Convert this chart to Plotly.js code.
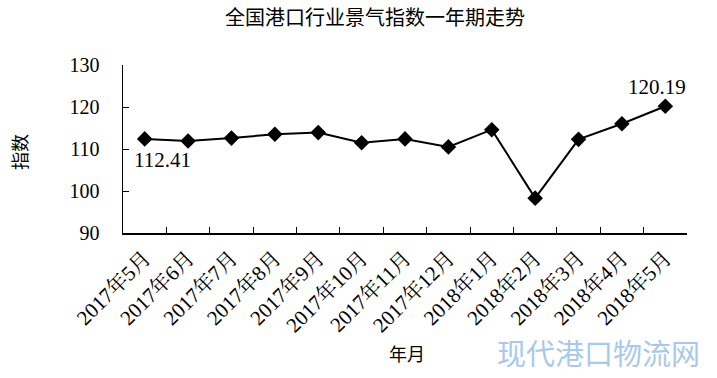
<!DOCTYPE html>
<html><head><meta charset="utf-8">
<script src="https://cdn.plot.ly/plotly-3.0.1.min.js"></script>
<style>body{margin:0;background:#fff}#c{width:717px;height:378px}</style>
</head><body><div id="c"></div>
<script>
const months = ["2017年5月","2017年6月","2017年7月","2017年8月","2017年9月","2017年10月","2017年11月","2017年12月","2018年1月","2018年2月","2018年3月","2018年4月","2018年5月"];
const index = [112.41, 111.9, 112.6, 113.5, 113.9, 111.5, 112.4, 110.5, 114.6, 98.3, 112.3, 116.0, 120.19];
const yTicks = [90, 100, 110, 120, 130];

const serif = "'Liberation Serif', 'Noto Serif CJK SC', 'Noto Sans CJK SC', serif";
const cjk = "'Noto Sans CJK SC', sans-serif";

const trace = {
  x: months, y: index, type: 'scatter', mode: 'lines+markers',
  line: {color: '#000', width: 2},
  marker: {symbol: 'diamond', size: 12, color: '#000'},
  hoverinfo: 'none'
};

const pw = 717 - 123 - 30, ph = 378 - 65 - 145;
const px = v => (v - 123) / pw, py = v => (233 - v) / ph;

const layout = {
  width: 717, height: 378,
  margin: {l: 123, r: 30, t: 65, b: 145},
  paper_bgcolor: '#fff', plot_bgcolor: '#fff',
  showlegend: false,
  title: {text: '全国港口行业景气指数一年期走势', font: {family: cjk, size: 20, color: '#000'}, x: 375 / 717, xanchor: 'center', y: 1 - 18 / 378, yanchor: 'middle'},
  xaxis: {
    type: 'category', range: [-0.5, 12.5], tickson: 'boundaries',
    ticks: 'inside', ticklen: 6, tickcolor: '#000',
    showline: true, linecolor: '#000', linewidth: 1.5,
    showgrid: false, zeroline: false, ticklabelstandoff: 3,
    tickangle: -45, tickfont: {family: serif, size: 21, color: '#000'},
    title: {text: ''}
  },
  yaxis: {
    range: [90, 130], tickvals: yTicks, ticktext: yTicks.map(String),
    ticks: 'inside', ticklen: 6, tickcolor: '#000',
    showline: true, linecolor: '#000', linewidth: 1.5,
    showgrid: false, zeroline: false, ticklabelstandoff: 18,
    tickfont: {family: serif, size: 20, color: '#000'},
    title: {text: ''}
  },
  annotations: [
    {x: months[0], y: index[0], xref: 'x', yref: 'y', text: index[0].toFixed(2), showarrow: false,
     xshift: 18, yshift: -21, font: {family: serif, size: 21, color: '#000'}},
    {x: months[12], y: index[12], xref: 'x', yref: 'y', text: index[12].toFixed(2), showarrow: false,
     xshift: -8, yshift: 19, font: {family: serif, size: 21, color: '#000'}},
    {x: px(19), y: py(152), xref: 'paper', yref: 'paper', text: '指数', textangle: -90, showarrow: false,
     xanchor: 'center', yanchor: 'middle', font: {family: cjk, size: 18, color: '#000'}},
    {x: px(407), y: py(353), xref: 'paper', yref: 'paper', text: '年月', showarrow: false,
     xanchor: 'center', yanchor: 'middle', font: {family: cjk, size: 18, color: '#000'}},
    {x: px(598), y: py(352), xref: 'paper', yref: 'paper', text: '现代港口物流网', showarrow: false,
     xanchor: 'center', yanchor: 'middle', font: {family: cjk, size: 29, color: '#a9c9ea'}}
  ]
};

Plotly.newPlot('c', [trace], layout, {staticPlot: true, displayModeBar: false});
</script></body></html>
